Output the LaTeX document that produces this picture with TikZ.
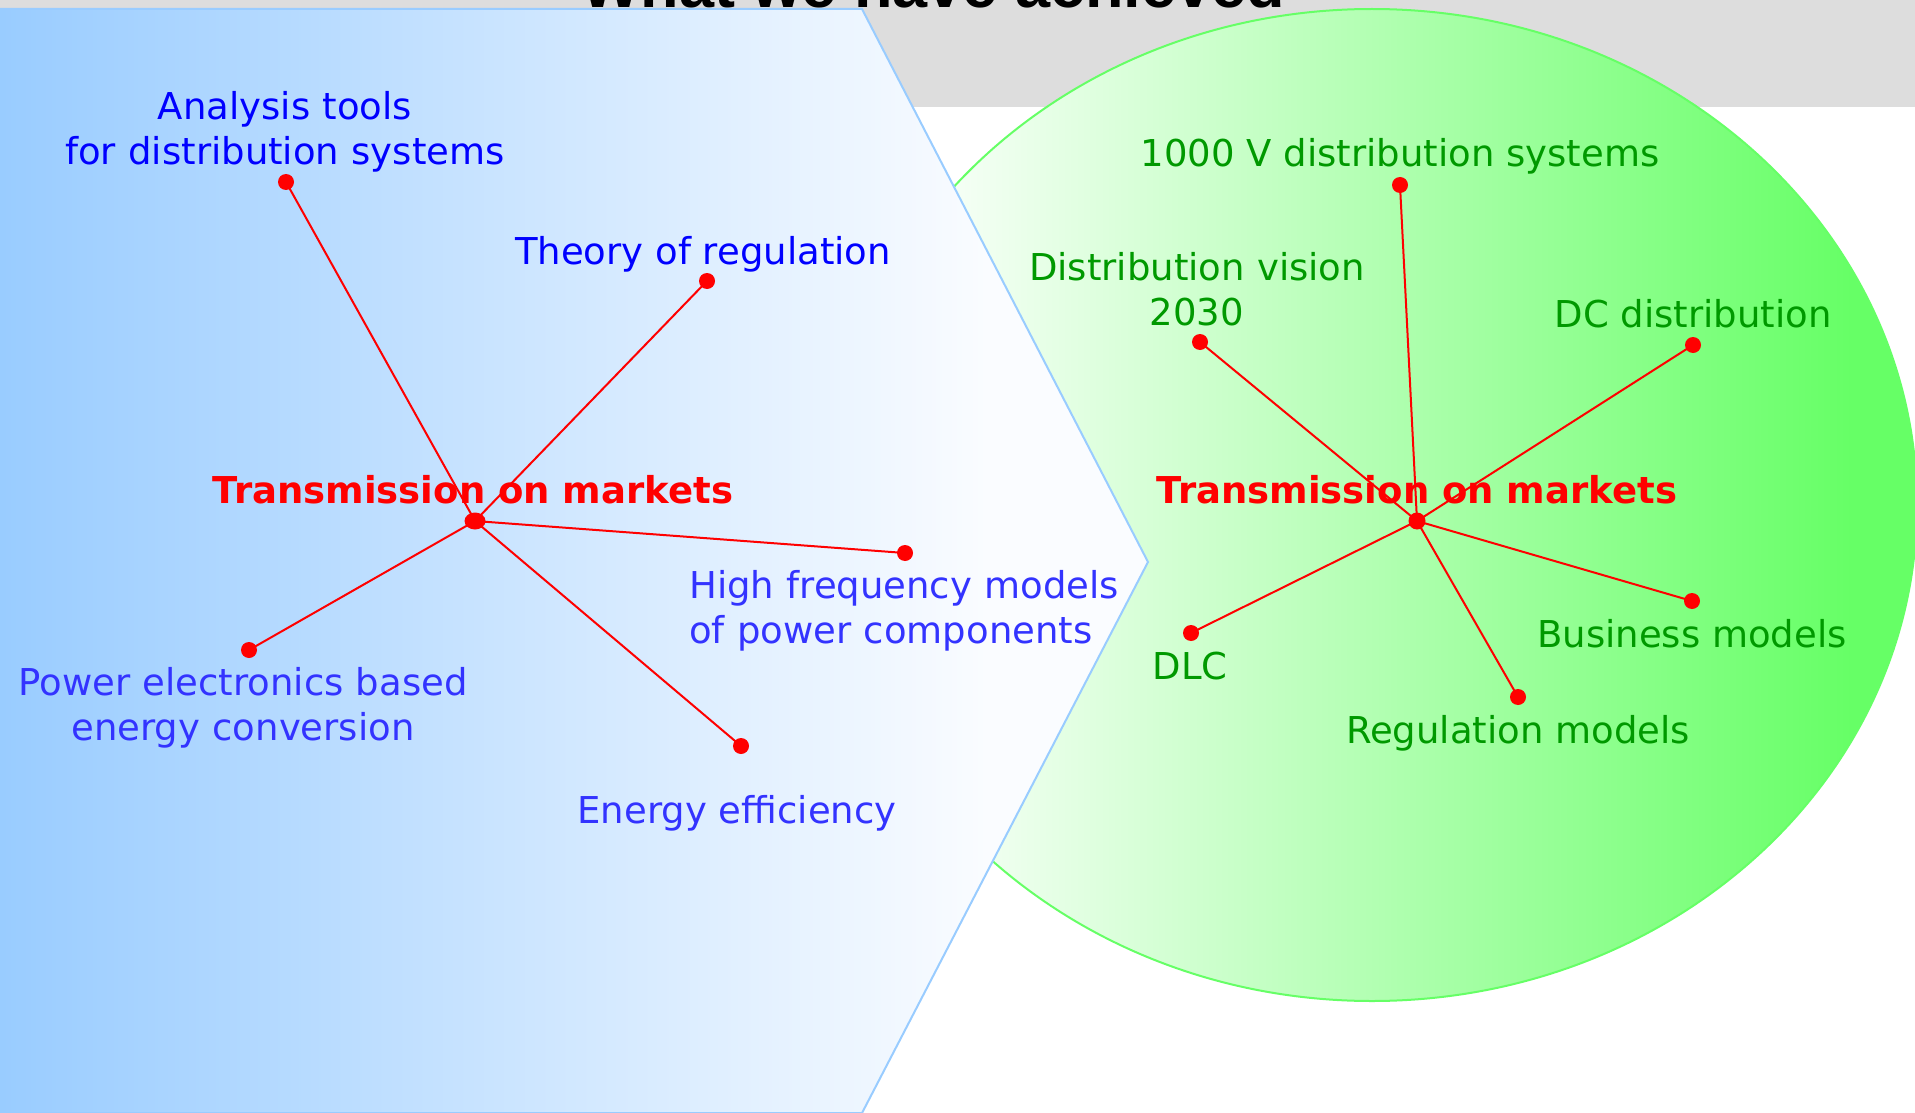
\documentclass[tikz,border=0pt]{standalone}
\usepackage{fontspec}
\usetikzlibrary{shapes.geometric}
\setmainfont{DejaVu Sans}
\newfontfamily\titlefont{Liberation Sans}
\definecolor{bandgray}{RGB}{221,221,221}
\definecolor{skyblue}{RGB}{153,204,255}
\definecolor{paleblue}{RGB}{250,252,255}
\definecolor{brightgreen}{RGB}{102,255,102}
\definecolor{palegreen}{RGB}{248,255,248}
\definecolor{leafgreen}{RGB}{0,153,0}
\definecolor{softblue}{RGB}{51,51,255}
\definecolor{pureblue}{RGB}{0,0,255}
\pgfdeclarehorizontalshading{chevronshade}{100bp}{color(0bp)=(skyblue); color(25bp)=(skyblue); color(68bp)=(paleblue); color(100bp)=(paleblue)}
\pgfdeclarehorizontalshading{ovalshade}{100bp}{color(0bp)=(palegreen); color(30bp)=(palegreen); color(72bp)=(brightgreen); color(100bp)=(brightgreen)}
\begin{document}
\begin{tikzpicture}[x=1pt,y=-1pt,
  lbl/.style={inner sep=0pt, anchor=base, font=\fontsize{37}{45}\selectfont},
  hublbl/.style={lbl, text=red, font=\fontsize{37}{45}\selectfont\bfseries},
  dotnode/.style={circle, fill=red, inner sep=0pt, minimum size=16pt},
  hubdot/.style={ellipse, fill=red, inner sep=0pt, minimum width=21pt, minimum height=17pt},
  link/.style={draw=red, line width=2pt},
  blueA/.style={lbl, text=pureblue},
  blueB/.style={lbl, text=softblue},
  greenlbl/.style={lbl, text=leafgreen}]
\useasboundingbox (0,0) rectangle (1915,1113);
\clip (0,0) rectangle (1915,1113);
\fill[white] (0,0) rectangle (1915,1113);
\fill[bandgray] (0,0) rectangle (1915,107);
\node[inner sep=0pt, anchor=base, font=\titlefont\bfseries\fontsize{63}{70}\selectfont] (title) at (933,7.5) {What we have achieved};
% green ellipse
\path[draw=brightgreen, line width=2pt, shading=ovalshade] (1372,505) ellipse [x radius=545, y radius=496];
% blue chevron
\path[draw=skyblue, line width=2pt, shading=chevronshade] (0,9) -- (862,9) -- (1148,562) -- (862,1113) -- (0,1113) -- cycle;

% ---- left cluster
\node[hubdot] (cL) at (475,521) {};
\node[dotnode] (aL) at (286,182) {};
\node[dotnode] (tL) at (707,281) {};
\node[dotnode] (hL) at (905,553) {};
\node[dotnode] (pL) at (249,650) {};
\node[dotnode] (eL) at (741,746) {};
\foreach \n in {aL,tL,hL,pL,eL} \draw[link] (cL.center) -- (\n.center);

\node[blueA, text width=500pt, align=center] (aLt) at (285,120) {Analysis tools\\for distribution systems};
\node[blueA] (tLt) at (703,264) {Theory of regulation};
\node[hublbl] (cLt) at (473,503) {Transmission on markets};
\node[blueB, anchor=base west, text width=460pt, align=left] (hLt) at (689,598) {High frequency models\\of power components};
\node[blueB, text width=480pt, align=center] (pLt) at (243,695) {Power electronics based\\energy conversion};
\node[blueB] (eLt) at (737,823) {Energy efficiency};

% ---- right cluster
\node[dotnode, minimum size=17pt] (cR) at (1417,521) {};
\node[dotnode] (vR) at (1400,185) {};
\node[dotnode] (dR) at (1200,342) {};
\node[dotnode] (dcR) at (1693,345) {};
\node[dotnode] (lR) at (1191,633) {};
\node[dotnode] (rR) at (1518,697) {};
\node[dotnode] (bR) at (1692,601) {};
\foreach \n in {vR,dR,dcR,lR,rR,bR} \draw[link] (cR.center) -- (\n.center);

\node[greenlbl] (vRt) at (1400,167) {1000 V distribution systems};
\node[greenlbl, text width=400pt, align=center] (dRt) at (1197,280) {Distribution vision\\2030};
\node[greenlbl] (dcRt) at (1693,327) {DC distribution};
\node[hublbl] (cRt) at (1417,503) {Transmission on markets};
\node[greenlbl] (lRt) at (1190,679) {DLC};
\node[greenlbl] (rRt) at (1518,743) {Regulation models};
\node[greenlbl] (bRt) at (1692,647) {Business models};
\end{tikzpicture}
\end{document}
